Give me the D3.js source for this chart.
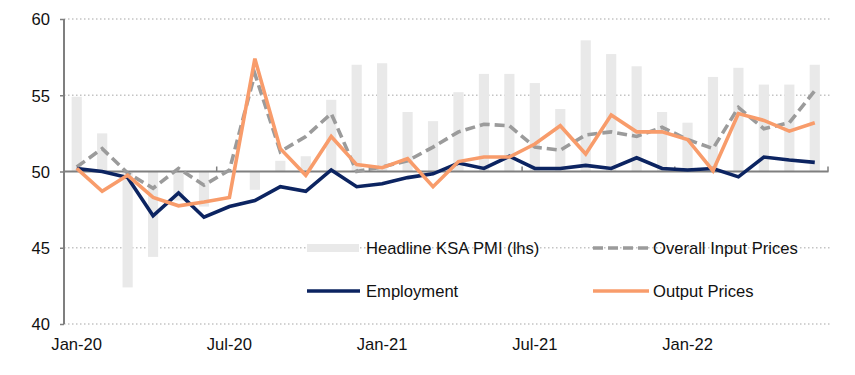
<!DOCTYPE html>
<html>
<head>
<meta charset="utf-8">
<script src="https://cdn.jsdelivr.net/npm/d3@7"></script>
<style>
  html, body { margin: 0; padding: 0; background: #ffffff; }
  svg { display: block; font-family: "Liberation Sans", Arial, sans-serif; }
</style>
</head>
<body>
<svg id="chart" width="855" height="375"></svg>
<script>
const months = ["Jan-20","Feb-20","Mar-20","Apr-20","May-20","Jun-20","Jul-20","Aug-20","Sep-20","Oct-20","Nov-20","Dec-20",
  "Jan-21","Feb-21","Mar-21","Apr-21","May-21","Jun-21","Jul-21","Aug-21","Sep-21","Oct-21","Nov-21","Dec-21",
  "Jan-22","Feb-22","Mar-22","Apr-22","May-22","Jun-22"];
const headlinePMI = [54.9,52.5,42.4,44.4,48.1,47.7,50.0,48.8,50.7,51.0,54.7,57.0,
  57.1,53.9,53.3,55.2,56.4,56.4,55.8,54.1,58.6,57.7,56.9,53.9,
  53.2,56.2,56.8,55.7,55.7,57.0];
const inputPrices = [50.3,51.5,49.9,48.9,50.2,49.1,50.1,56.4,51.3,52.3,53.8,50.0,
  50.3,50.7,51.6,52.6,53.1,53.0,51.6,51.4,52.4,52.6,52.3,52.9,
  52.1,51.5,54.2,52.8,53.2,55.3];
const employment = [50.2,50.0,49.6,47.1,48.6,47.0,47.7,48.1,49.0,48.7,50.1,49.0,
  49.2,49.6,49.85,50.55,50.2,51.0,50.2,50.2,50.4,50.2,50.9,50.2,
  50.1,50.2,49.65,50.95,50.75,50.6];
const outputPrices = [50.2,48.7,49.75,48.3,47.75,48.0,48.3,57.4,51.5,49.75,52.3,50.45,
  50.25,50.85,49.0,50.65,50.95,50.95,51.8,53.0,51.15,53.7,52.6,52.6,
  52.1,50.05,53.8,53.35,52.65,53.2];
const yTicks = [40,45,50,55,60];
const xLabels = ["Jan-20","Jul-20","Jan-21","Jul-21","Jan-22"];
const legendItems = [
  {name: "Headline KSA PMI (lhs)", type: "bar"},
  {name: "Overall Input Prices", type: "dash"},
  {name: "Employment", type: "navy"},
  {name: "Output Prices", type: "orange"}
];

const svg = d3.select("#chart");
const x = d3.scaleBand().domain(months).range([64, 827.5]).padding(0);
const y = d3.scaleLinear().domain([40, 60]).range([324, 19]);
const cx = m => x(m) + x.bandwidth() / 2;

const colors = { bar: "#e9e9e9", dash: "#9b9b9b", navy: "#0c2461", orange: "#f89c6b", axis: "#7f7f7f", grid: "#c4c4c4" };
const fs = "16.6px";

// gridlines (dotted)
svg.append("g").selectAll("line").data(yTicks.filter(v => v !== 50)).join("line")
  .attr("x1", 64).attr("x2", 830)
  .attr("y1", d => y(d)).attr("y2", d => y(d))
  .attr("stroke", colors.grid).attr("stroke-width", 1.5).attr("stroke-dasharray", "1.5,2.5");

// bars from 50
const bw = x.bandwidth() * 0.4;
svg.append("g").selectAll("rect").data(months).join("rect")
  .attr("x", (m) => cx(m) - bw / 2)
  .attr("width", bw)
  .attr("y", (m, i) => Math.min(y(headlinePMI[i]), y(50)))
  .attr("height", (m, i) => Math.abs(y(headlinePMI[i]) - y(50)))
  .attr("fill", colors.bar);

// y axis
const yAxis = d3.axisLeft(y).tickValues(yTicks).tickSize(4).tickFormat(d3.format("d"));
const gy = svg.append("g").attr("transform", "translate(64,0)").call(yAxis);
gy.select(".domain").attr("stroke", colors.axis).attr("stroke-width", 2).attr("d", `M0,${y(60)}V${y(40)}`);
gy.selectAll(".tick line").attr("stroke", colors.axis).attr("stroke-width", 1.5);
gy.selectAll(".tick text").attr("font-size", fs).attr("fill", "#111").attr("x", -14).attr("dy", "0.36em");

// x axis at 50
const tickMonths = months.filter((m, i) => i % 6 === 0 && i > 0);
const gx = svg.append("g");
gx.append("line").attr("x1", 64).attr("x2", 828.5).attr("y1", y(50)).attr("y2", y(50))
  .attr("stroke", colors.axis).attr("stroke-width", 2);
gx.selectAll("line.tk").data(tickMonths.concat(["END"])).join("line").attr("class", "tk")
  .attr("x1", d => d === "END" ? 828 : x(d)).attr("x2", d => d === "END" ? 828 : x(d))
  .attr("y1", y(50)).attr("y2", y(50) - 5)
  .attr("stroke", colors.axis).attr("stroke-width", 1.5);

// x labels
svg.append("g").selectAll("text").data(xLabels).join("text")
  .attr("x", d => cx(d)).attr("y", 350)
  .attr("text-anchor", "middle").attr("font-size", fs).attr("fill", "#111")
  .text(d => d);

// lines
const line = vals => d3.line().x((d, i) => cx(months[i])).y(d => y(d))(vals);
svg.append("path").attr("d", line(inputPrices)).attr("fill", "none")
  .attr("stroke", colors.dash).attr("stroke-width", 3.6).attr("stroke-dasharray", "10,5");
svg.append("path").attr("d", line(employment)).attr("fill", "none")
  .attr("stroke", colors.navy).attr("stroke-width", 3.6);
svg.append("path").attr("d", line(outputPrices)).attr("fill", "none")
  .attr("stroke", colors.orange).attr("stroke-width", 3.6);

// legend
const legPos = [[307, 248], [593, 248], [307, 291], [593, 291]];
const lg = svg.append("g");
legendItems.forEach((it, i) => {
  const [lx, ly] = legPos[i];
  if (it.type === "bar") {
    lg.append("rect").attr("x", lx).attr("y", ly - 4).attr("width", 52).attr("height", 8).attr("fill", colors.bar);
  } else {
    const l = lg.append("line").attr("x1", lx).attr("x2", lx + (i % 2 ? 56 : 53))
      .attr("y1", ly).attr("y2", ly).attr("stroke-width", 3.6)
      .attr("stroke", colors[it.type]);
    if (it.type === "dash") l.attr("stroke-dasharray", "10,5");
  }
  lg.append("text").attr("x", i % 2 ? 653 : 366).attr("y", ly).attr("dy", "0.36em")
    .attr("font-size", fs).attr("fill", "#111").text(it.name);
});
</script>
</body>
</html>
